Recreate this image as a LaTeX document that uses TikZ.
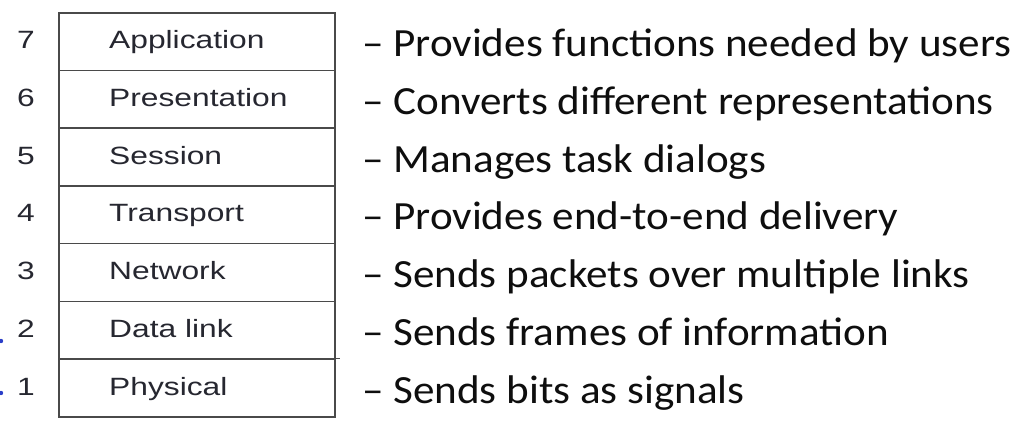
\documentclass[tikz,border=0pt]{standalone}
\usepackage{fontspec}
\setmainfont{Carlito}
\newfontfamily\arialf{Liberation Sans}
\definecolor{lblgray}{HTML}{262730}
\definecolor{boxgray}{HTML}{4A4A4A}
\definecolor{desck}{HTML}{0E0E0E}
\definecolor{dotblue}{HTML}{2B3FC8}
\tikzset{
  layerbox/.style={draw=boxgray, line width=1.6pt, minimum width=276pt, minimum height=57.7pt, anchor=north west, inner sep=0pt},
  layertxt/.style={anchor=base west, inner sep=0pt, text=lblgray, font=\arialf\fontsize{25}{25}\selectfont},
  numtxt/.style={anchor=base, inner sep=0pt, text=lblgray, font=\arialf\fontsize{25}{25}\selectfont},
  desctxt/.style={anchor=base west, inner sep=0pt, text=desck, font=\fontsize{40}{40}\selectfont},
}
\newcommand{\hs}[1]{\scalebox{1.27}[1]{#1}}
\newcommand{\ds}[1]{\scalebox{1.078}[1]{#1}}
\begin{document}
\begin{tikzpicture}[x=1pt,y=-1pt]
\useasboundingbox[fill=white] (0,0) rectangle (1028,428);
\foreach \n/\lab/\desc [count=\i from 0] in {
  7/Application/{– Provides functions needed by users},
  6/Presentation/{– Converts different representations},
  5/Session/{– Manages task dialogs},
  4/Transport/{– Provides end-to-end delivery},
  3/Network/{– Sends packets over multiple links},
  2/Data link/{– Sends frames of information},
  1/Physical/{– Sends bits as signals}} {
  \pgfmathsetmacro{\yt}{12+57.7*\i}
  \pgfmathsetmacro{\yc}{\yt+28.85}
  \node[layerbox] (L\n) at (58,\yt) {};
  \node[layertxt] (T\n) at (109,\yc+8) {\hs{\lab}};
  \node[numtxt] (N\n) at (26,\yc+8) {\hs{\n}};
  \node[desctxt] (D\n) at (362,\yc+16) {\ds{\desc}};
}
\coordinate (ext) at ([xshift=4pt]L1.north east);
\draw[boxgray, line width=1.4pt] (L1.north east) -- (ext);
\fill[dotblue] (1,341) circle (2.2pt);
\fill[dotblue] (1,393) circle (2.2pt);
\end{tikzpicture}
\end{document}
